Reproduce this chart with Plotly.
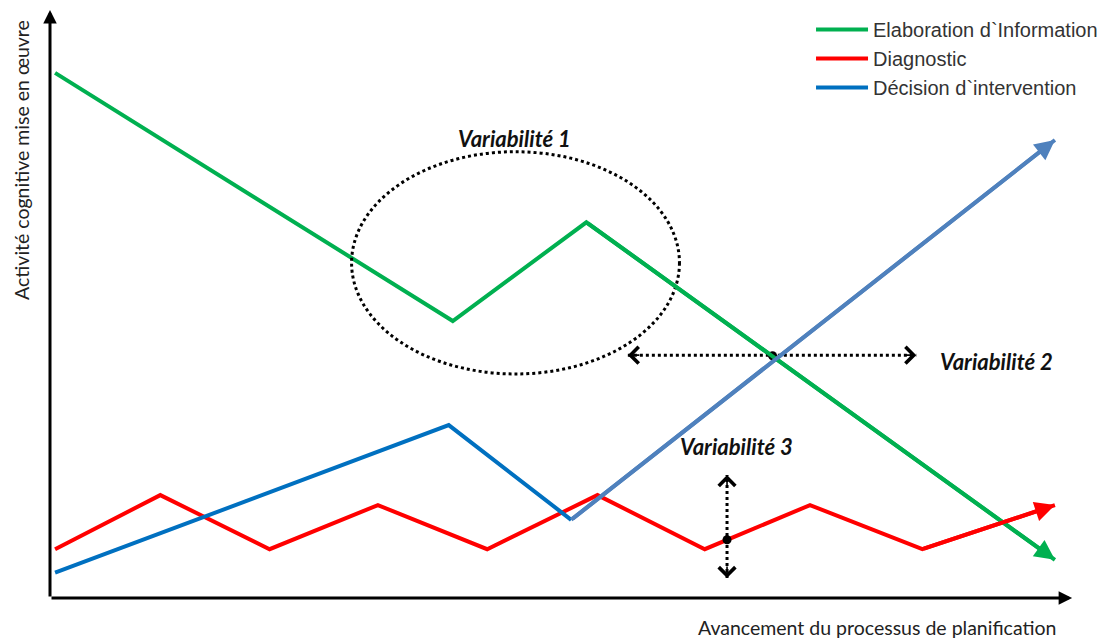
import plotly.graph_objects as go

# Data (x: planning progress 0-100, y: cognitive activity 0-100)
green_x = [0.5, 39.8, 53.0, 99.3]
green_y = [89.3, 47.1, 63.9, 6.5]

red_x = [0.5, 10.9, 21.7, 32.4, 43.2, 54.1, 64.7, 75.1, 86.2, 99.3]
red_y = [8.3, 17.5, 8.3, 15.8, 8.3, 17.5, 8.3, 15.8, 8.3, 15.8]

blue_x = [0.5, 39.4, 51.5, 99.3]
blue_y = [4.3, 29.4, 13.3, 77.9]

names = ["Elaboration d`Information", "Diagnostic", "Décision d`intervention"]

GREEN = "#00B050"
RED = "#FF0000"
BLUE = "#0070C0"
BLUE_LIGHT = "#4F81BD"

# Variability markers
ell_x = [29.8, 62.2]
ell_y = [38.1, 75.9]
v2_x = [57.1, 85.6]
v2_y = 41.3
v2_dot = (71.4, 41.2)
v3_x = 66.9
v3_y = [3.4, 20.9]
v3_dot = (66.9, 9.9)

fig = go.Figure()

fig.add_trace(go.Scatter(x=green_x, y=green_y, mode="lines", name=names[0],
                         line=dict(color=GREEN, width=4), legendgroup="g"))
fig.add_trace(go.Scatter(x=red_x, y=red_y, mode="lines", name=names[1],
                         line=dict(color=RED, width=4), legendgroup="r"))
fig.add_trace(go.Scatter(x=blue_x[:3], y=blue_y[:3], mode="lines", name=names[2],
                         line=dict(color=BLUE, width=4), legendgroup="b"))
fig.add_trace(go.Scatter(x=blue_x[2:], y=blue_y[2:], mode="lines", showlegend=False,
                         line=dict(color=BLUE_LIGHT, width=4), legendgroup="b"))

# dots
fig.add_trace(go.Scatter(x=[v2_dot[0], v3_dot[0]], y=[v2_dot[1], v3_dot[1]], mode="markers",
                         marker=dict(color="black", size=9), showlegend=False))

annotations = []
# arrowheads at line ends
for xs, ys, c in [(green_x, green_y, GREEN), (red_x, red_y, RED), (blue_x, blue_y, BLUE_LIGHT)]:
    annotations.append(dict(x=xs[-1], y=ys[-1], ax=xs[-2], ay=ys[-2], xref="x", yref="y",
                            axref="x", ayref="y", showarrow=True, arrowhead=2, arrowsize=1,
                            arrowwidth=4, arrowcolor=c, text=""))

# axes with arrows
annotations.append(dict(x=101.0, y=0, ax=0, ay=0, xref="x", yref="y", axref="x", ayref="y",
                        showarrow=True, arrowhead=2, arrowsize=0.9, arrowwidth=3,
                        arrowcolor="black", text=""))
annotations.append(dict(x=0, y=100.0, ax=0, ay=0, xref="x", yref="y", axref="x", ayref="y",
                        showarrow=True, arrowhead=2, arrowsize=0.9, arrowwidth=3,
                        arrowcolor="black", text=""))

# chevrons (pixel offsets for the tail)
chev = dict(xref="x", yref="y", axref="pixel", ayref="pixel", showarrow=True, arrowhead=4,
            arrowsize=2, arrowwidth=1.6, arrowcolor="black", text="", font=dict(size=1),
            borderpad=0)
annotations.append(dict(chev, x=v2_x[0], y=v2_y, ax=12, ay=0))
annotations.append(dict(chev, x=v2_x[1], y=v2_y, ax=-12, ay=0))
annotations.append(dict(chev, x=v3_x, y=v3_y[1], ax=0, ay=12))
annotations.append(dict(chev, x=v3_x, y=v3_y[0], ax=0, ay=-12))

lab_font = dict(family="Lato", size=22, color="#111111", weight="bold", style="italic")
annotations.append(dict(x=45.9, y=78.1, text="Variabilité 1", showarrow=False, font=lab_font,
                        xref="x", yref="y"))
annotations.append(dict(x=87.7, y=40.3, text="Variabilité 2", showarrow=False, font=lab_font,
                        xref="x", yref="y", xanchor="left"))
annotations.append(dict(x=67.8, y=25.7, text="Variabilité 3", showarrow=False, font=lab_font,
                        xref="x", yref="y"))

title_font = dict(family="Lato", size=19.5, color="#222222")
annotations.append(dict(x=-0.0277, y=0.745, text="Activité cognitive mise en œuvre", textangle=-90,
                        showarrow=False, font=title_font, xref="paper", yref="paper",
                        xanchor="center", yanchor="middle"))
annotations.append(dict(x=0.996, y=-0.051, text="Avancement du processus de planification",
                        showarrow=False, font=title_font, xref="paper", yref="paper",
                        xanchor="right", yanchor="middle"))

fig.update_layout(
    width=1107, height=639,
    margin=dict(l=50, r=45, t=10, b=41, autoexpand=False),
    plot_bgcolor="white", paper_bgcolor="white",
    xaxis=dict(range=[0, 100], visible=False),
    yaxis=dict(range=[0, 100], visible=False),
    showlegend=True,
    legend=dict(x=0.752, y=1.0, xanchor="left", yanchor="top",
                font=dict(family="Liberation Sans", size=20, color="#333333"),
                itemwidth=52, tracegroupgap=0, bgcolor="rgba(0,0,0,0)"),
    shapes=[
        dict(type="circle", xref="x", yref="y", x0=ell_x[0], x1=ell_x[1], y0=ell_y[0], y1=ell_y[1],
             line=dict(color="black", width=3, dash="dot")),
        dict(type="line", xref="x", yref="y", x0=v2_x[0], x1=v2_x[1], y0=v2_y, y1=v2_y,
             line=dict(color="black", width=3, dash="dot")),
        dict(type="line", xref="x", yref="y", x0=v3_x, x1=v3_x, y0=v3_y[0], y1=v3_y[1],
             line=dict(color="black", width=3, dash="dot")),
    ],
    annotations=annotations,
)

fig.write_html("out.html", config={"displayModeBar": False},
               post_script="document.body.style.margin='0';")
